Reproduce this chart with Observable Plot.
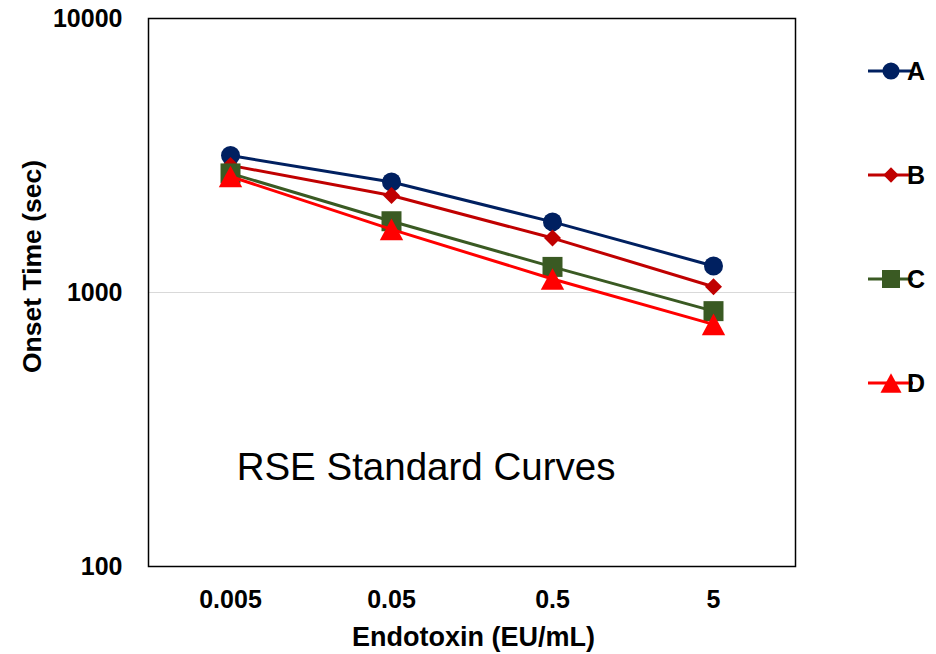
<!DOCTYPE html>
<html>
<head>
<meta charset="utf-8">
<script src="https://cdn.jsdelivr.net/npm/d3@7"></script>
<script src="https://cdn.jsdelivr.net/npm/@observablehq/plot@0.6"></script>
<style>
  body { margin: 0; background: #fff; }
  #chart { width: 936px; height: 654px; }
</style>
</head>
<body>
<div id="chart"></div>
<script>
// ---- data ----
const categories = ["0.005", "0.05", "0.5", "5"];
const seriesNames = ["A", "B", "C", "D"];
const valuesA = [3160, 2530, 1810, 1250];
const valuesB = [2910, 2260, 1580, 1050];
const valuesC = [2720, 1820, 1240, 855];
const valuesD = [2650, 1700, 1120, 765];
const yTicks = [100, 1000, 10000];
const titleText = "RSE Standard Curves";
const xLabel = "Endotoxin (EU/mL)";
const yLabel = "Onset Time (sec)";

// ---- styles ----
const colors = ["#002060", "#C00000", "#3A5A23", "#FF0000"];
const radii = [9.5, 8.5, 10, 9];
const legendScale = 0.9;
const FONT = "'Liberation Sans', Arial, Helvetica, sans-serif";

// custom symbols (r = sqrt(size/PI) is the half-extent)
const rOf = size => Math.sqrt(size / Math.PI);
const symCircle = { draw(ctx, size) { const r = rOf(size); ctx.moveTo(r, 0); ctx.arc(0, 0, r, 0, 2 * Math.PI); } };
const symDiamond = { draw(ctx, size) { const r = rOf(size); ctx.moveTo(0, -r); ctx.lineTo(r, 0); ctx.lineTo(0, r); ctx.lineTo(-r, 0); ctx.closePath(); } };
const symSquare = { draw(ctx, size) { const r = rOf(size); ctx.rect(-r, -r, 2 * r, 2 * r); } };
const symTriangle = { draw(ctx, size) { const r = rOf(size); ctx.moveTo(0, -1.2 * r); ctx.lineTo(1.3 * r, 1.2 * r); ctx.lineTo(-1.3 * r, 1.2 * r); ctx.closePath(); } };
const symbols = [symCircle, symDiamond, symSquare, symTriangle];

const allValues = [valuesA, valuesB, valuesC, valuesD];
const rows = seriesNames.flatMap((s, i) =>
  categories.map((c, j) => ({ series: s, x: c, y: allValues[i][j] }))
);

const seriesMarks = seriesNames.flatMap((s, i) => {
  const d = rows.filter(r => r.series === s);
  return [
    Plot.line(d, { x: "x", y: "y", stroke: colors[i], strokeWidth: 3 }),
    Plot.dot(d, { x: "x", y: "y", fill: colors[i], r: radii[i], symbol: symbols[i] })
  ];
});

const chart = Plot.plot({
  width: 936,
  height: 654,
  marginLeft: 148,
  marginTop: 18,
  marginRight: 141,
  marginBottom: 88,
  style: {
    fontFamily: FONT,
    fontSize: "24px",
    fontWeight: "bold",
    background: "white",
    color: "black"
  },
  x: { type: "point", domain: categories, padding: 0.5 },
  y: { type: "log", domain: [100, 10000] },
  marks: [
    Plot.ruleY([1000], { stroke: "#d9d9d9", strokeWidth: 1.2 }),
    Plot.frame({ stroke: "#000", strokeWidth: 1.5 }),
    Plot.axisY({ ticks: yTicks, tickSize: 0, tickPadding: 26, tickFormat: d => String(d), label: null }),
    Plot.axisX({ tickSize: 0, tickPadding: 24, label: null }),
    ...seriesMarks,
    Plot.text([titleText], { text: d => d, frameAnchor: "bottom", dx: -46, dy: -87, lineAnchor: "bottom", textAnchor: "middle", fontSize: 38.5, fontWeight: "normal", fontFamily: FONT }),
    Plot.text([xLabel], { text: d => d, frameAnchor: "bottom", dx: 1.5, dy: 79, lineAnchor: "bottom", textAnchor: "middle", fontSize: 27, fontWeight: "bold", fontFamily: FONT }),
    Plot.text([yLabel], { text: d => d, frameAnchor: "left", rotate: -90, dx: -116, dy: -26, lineAnchor: "middle", textAnchor: "middle", fontSize: 26.5, fontWeight: "bold", fontFamily: FONT })
  ]
});

const svg = d3.select(chart);
// enlarge axis tick labels (set directly on each tick text)
const tickStrings = new Set([...yTicks.map(String), ...categories]);
svg.selectAll("text")
  .filter(function () { return tickStrings.has(this.textContent.trim()); })
  .each(function () {
    const t = d3.select(this);
    t.style("font-size", "25px").style("font-weight", "bold").style("font-family", FONT);
    t.selectAll("tspan").style("font-size", "25px");
  });
svg.selectAll("g[aria-label*='tick label']")
  .style("font-size", "25px").attr("font-size", 25);

// ---- legend (right side) ----
const lg = svg.append("g").attr("class", "legend");
seriesNames.forEach((s, i) => {
  const cy = 71 + i * 104;
  const g = lg.append("g").attr("transform", `translate(0,${cy})`);
  g.append("line").attr("x1", 868).attr("x2", 913).attr("y1", 0).attr("y2", 0)
    .attr("stroke", colors[i]).attr("stroke-width", 3);
  const rr = radii[i] * legendScale;
  g.append("path").attr("transform", "translate(891,0)")
    .attr("d", d3.symbol().type(symbols[i]).size(Math.PI * rr * rr)())
    .attr("fill", colors[i]);
  g.append("text").attr("x", 916).attr("y", 0).attr("dy", "0.36em")
    .style("font-size", "25px").style("font-weight", "bold").style("font-family", FONT)
    .attr("fill", "black").text(s);
});

document.getElementById("chart").appendChild(chart);
</script>
</body>
</html>
